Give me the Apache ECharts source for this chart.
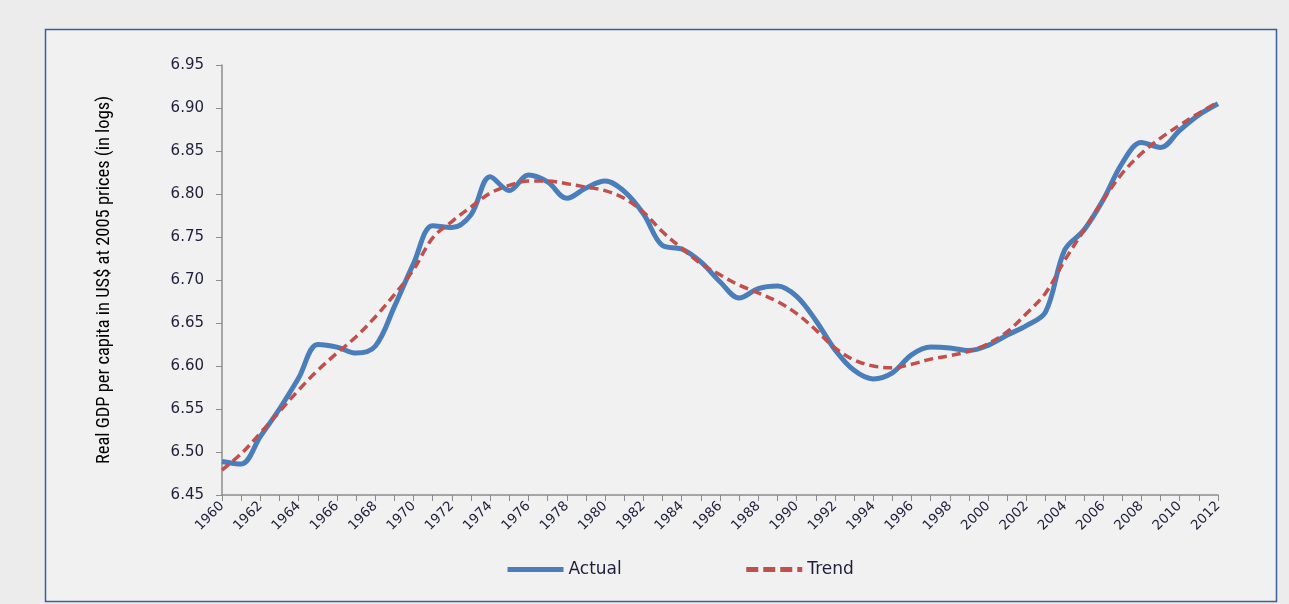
<!DOCTYPE html>
<html>
<head>
<meta charset="utf-8">
<script src="https://cdn.jsdelivr.net/npm/echarts@6/dist/echarts.min.js"></script>
<style>
html,body{margin:0;padding:0;background:#ececec;}
#chart{width:1289px;height:604px;}
</style>
</head>
<body>
<div id="chart"></div>
<script>
var years = [];
for (var y = 1960; y <= 2012; y++) years.push(String(y));

var actual = [
  6.489, 6.486, 6.518, 6.550, 6.586, 6.625, 6.622, 6.615, 6.623, 6.669,
  6.719, 6.763, 6.761, 6.776, 6.820, 6.804, 6.822, 6.814, 6.795, 6.807,
  6.815, 6.803, 6.777, 6.740, 6.736, 6.721, 6.698, 6.679, 6.690, 6.693,
  6.681, 6.653, 6.619, 6.595, 6.585, 6.592, 6.613, 6.622, 6.621, 6.618,
  6.624, 6.636, 6.647, 6.663, 6.735, 6.758, 6.793, 6.836, 6.860, 6.854,
  6.874, 6.892, 6.905
];

var trend = [
  6.479, 6.498, 6.522, 6.547, 6.572, 6.595, 6.615, 6.634, 6.657, 6.683,
  6.712, 6.749, 6.768, 6.785, 6.801, 6.810, 6.815, 6.815, 6.812, 6.808,
  6.804, 6.795, 6.779, 6.756, 6.737, 6.719, 6.706, 6.694, 6.685, 6.675,
  6.661, 6.642, 6.621, 6.607, 6.600, 6.598, 6.602, 6.608, 6.612, 6.617,
  6.626, 6.640, 6.661, 6.685, 6.723, 6.758, 6.793, 6.824, 6.847, 6.865,
  6.880, 6.894, 6.907
];

var yTitle = 'Real GDP per capita in US$ at 2005 prices (in logs)';

var chart = echarts.init(document.getElementById('chart'), null, {renderer: 'canvas'});
chart.setOption({
  backgroundColor: '#ececec',
  animation: false,
  graphic: [
    {type: 'rect', z: -10, silent: true,
     shape: {x: 45.5, y: 29.5, width: 1231, height: 572},
     style: {fill: '#f1f1f1', stroke: '#3d5f98', lineWidth: 1.5}}
  ],
  grid: {left: 222, right: 71, top: 65, bottom: 109, containLabel: false},
  legend: {
    left: 505, top: 561, padding: 0,
    itemWidth: 56, itemHeight: 14, itemGap: 122,
    itemStyle: {opacity: 0},
    textStyle: {fontFamily: 'DejaVu Sans', fontSize: 17, color: '#1f1f3a'},
    data: [
      {name: 'Actual', lineStyle: {width: 5, color: '#4a7ebb'}},
      {name: 'Trend', lineStyle: {width: 5, color: '#c0504d', type: [12, 5]}}
    ]
  },
  xAxis: {
    type: 'category',
    data: years,
    boundaryGap: false,
    axisLine: {lineStyle: {color: '#8c8c8c', width: 1.5}},
    axisTick: {show: true, interval: 0, length: 6, lineStyle: {color: '#8c8c8c'}},
    axisLabel: {interval: 1, rotate: 45, margin: 9, fontFamily: 'DejaVu Sans', fontSize: 13.5, color: '#1f1f3a'},
    splitLine: {show: false}
  },
  yAxis: {
    type: 'value',
    min: 6.45, max: 6.95, interval: 0.05,
    name: yTitle,
    nameLocation: 'middle',
    nameGap: 108,
    nameRotate: 90,
    nameTextStyle: {fontFamily: 'Liberation Sans Narrow, Roboto Condensed, Noto Sans', fontSize: 18.5, color: '#000000'},
    axisLine: {show: true, lineStyle: {color: '#8c8c8c', width: 1.5}},
    axisTick: {show: true, length: 6, lineStyle: {color: '#8c8c8c'}},
    axisLabel: {margin: 18, fontFamily: 'DejaVu Sans', fontSize: 15, color: '#1f1f3a',
      formatter: function (v) { return v.toFixed(2); }},
    splitLine: {show: false}
  },
  series: [
    {name: 'Actual', type: 'line', data: actual, smooth: 0.35, symbol: 'none',
     lineStyle: {color: '#4a7ebb', width: 5}, itemStyle: {color: '#4a7ebb'}, z: 2},
    {name: 'Trend', type: 'line', data: trend, smooth: 0.35, symbol: 'none',
     lineStyle: {color: '#c0504d', width: 3.5, type: [9, 5]}, itemStyle: {color: '#c0504d'}, z: 3}
  ]
});
</script>
</body>
</html>
